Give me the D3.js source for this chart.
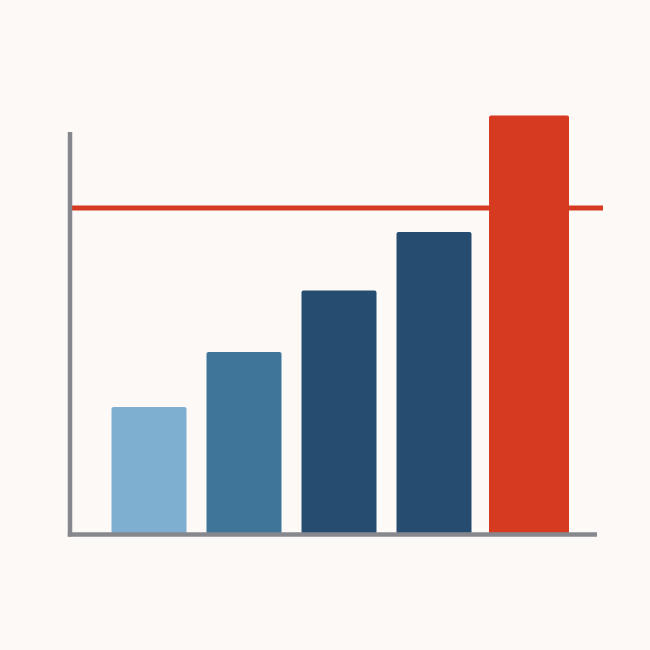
<!DOCTYPE html>
<html><head><meta charset="utf-8">
<script src="https://cdn.jsdelivr.net/npm/d3@7"></script>
<style>html,body{margin:0;padding:0;background:#fcf9f7;}svg{display:block;}</style>
</head><body>
<div id="chart"></div>
<script>
const categories = ["A", "B", "C", "D", "E"];
const values = [30, 43.2, 58, 72, 100];
const barColors = ["#7eafd1", "#3f7599", "#264d6f", "#264d6f", "#d63a21"];
const threshold = 77.8;

const W = 650, H = 650;
const svg = d3.select("#chart").append("svg").attr("width", W).attr("height", H);
svg.append("rect").attr("width", W).attr("height", H).attr("fill", "#fcf9f7");

const x = d3.scaleBand().domain(categories).range([101.5, 576.5]).paddingInner(20/95).paddingOuter(10/95);
const y = d3.scaleLinear().domain([0, 100]).range([532, 115.5]);

// threshold line
svg.append("line")
  .attr("x1", 72).attr("x2", 603)
  .attr("y1", y(threshold)).attr("y2", y(threshold))
  .attr("stroke", "#d63a21").attr("stroke-width", 5);

svg.selectAll("rect.bar").data(categories).enter().append("rect")
  .attr("class", "bar")
  .attr("x", (d, i) => x(d) - (i === 4 ? 2.5 : 0))
  .attr("width", (d, i) => x.bandwidth() + (i === 4 ? 5 : 0))
  .attr("y", (d, i) => y(values[i]))
  .attr("height", (d, i) => y(0) - y(values[i]) + 2)
  .attr("rx", 2)
  .attr("fill", (d, i) => barColors[i]);

// axes
svg.append("line").attr("x1", 70).attr("x2", 70).attr("y1", 132).attr("y2", 536.5)
  .attr("stroke", "#87888e").attr("stroke-width", 4.5);
svg.append("line").attr("x1", 67.8).attr("x2", 597).attr("y1", 534.5).attr("y2", 534.5)
  .attr("stroke", "#87888e").attr("stroke-width", 4.5);
</script>
</body></html>
